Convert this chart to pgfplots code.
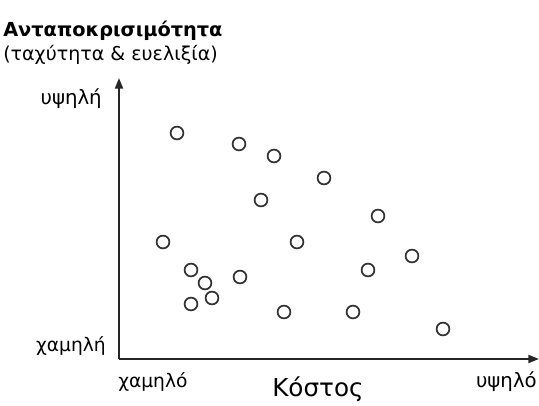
\documentclass[border=0pt]{standalone}
\usepackage{pgfplots}
\pgfplotsset{compat=1.18}
\usetikzlibrary{arrows.meta}
\usepackage{fontspec}
\setmainfont{DejaVu Sans}

\begin{document}
\begin{tikzpicture}
\begin{axis}[
  x=0.75pt, y=0.75pt,
  xmin=0, xmax=420, ymin=0, ymax=281,
  axis lines=left,
  axis line style={black!85, line width=1.5pt, -{Triangle[length=8pt,width=6pt]}},
  xtick=\empty, ytick=\empty,
  clip=false,
]
% responsiveness vs cost
\addplot[only marks, mark=o, mark size=4.8pt,
  mark options={line width=1.3pt, draw=black!80}] coordinates {
  (58,226) (120,215) (155,203) (205,181) (142,159) (259,143)
  (44,117) (178,117) (293,103) (72,89) (249,89) (86,76)
  (121,82) (93,61) (72,55) (165,47) (234,47) (324,30)
};
\node[anchor=base west, inner sep=0pt, font=\bfseries\fontsize{14.5}{14.5}\selectfont] at (axis cs:-116,322) {Ανταποκρισιμότητα};
\node[anchor=base west, inner sep=0pt, font=\fontsize{14.3}{14.3}\selectfont] at (axis cs:-116,298) {(ταχύτητα \& ευελιξία)};
\node[anchor=base east, inner sep=0pt, font=\fontsize{14.8}{14.8}\selectfont] at (axis cs:-17,254) {υψηλή};
\node[anchor=base east, inner sep=0pt, font=\fontsize{14}{14}\selectfont] at (axis cs:-13,7) {χαμηλή};
\node[anchor=base west, inner sep=0pt, font=\fontsize{14}{14}\selectfont] at (axis cs:-1,-29) {χαμηλό};
\node[anchor=base east, inner sep=0pt, font=\fontsize{14.8}{14.8}\selectfont] at (axis cs:418,-29) {υψηλό};
\node[anchor=base west, inner sep=0pt, font=\fontsize{18.5}{18.5}\selectfont] at (axis cs:153,-38) {Κόστος};
\coordinate (bl) at (axis cs:-119,-47);
\coordinate (tr) at (axis cs:420,359);
\end{axis}
\pgfresetboundingbox
\path[use as bounding box] (bl) rectangle (tr);
\end{tikzpicture}
\end{document}
